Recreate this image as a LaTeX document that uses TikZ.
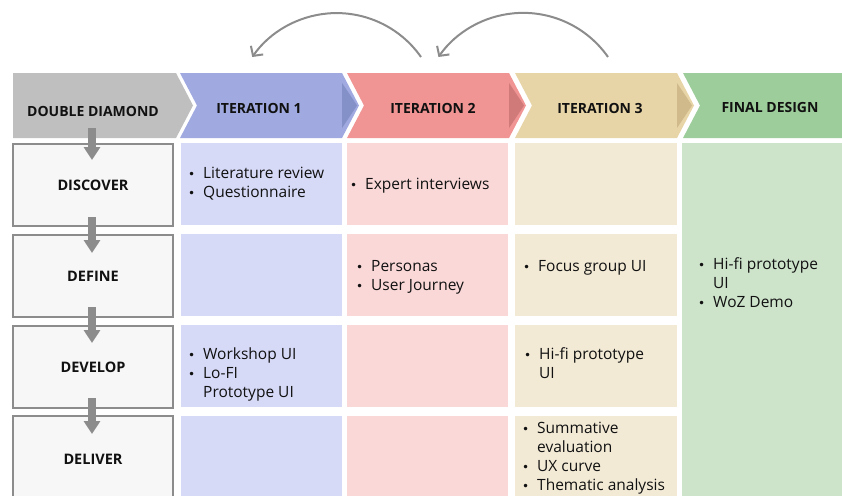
\documentclass[tikz,border=0pt]{standalone}
\usepackage{fontspec}
\setmainfont{Open Sans}
\newfontfamily\bulfont{DejaVu Sans}
\usetikzlibrary{arrows.meta}
\definecolor{ddgray}{HTML}{BFBFBF}
\definecolor{itA}{HTML}{A0AAE0}
\definecolor{itAd}{HTML}{8490C8}
\definecolor{itB}{HTML}{F09494}
\definecolor{itBd}{HTML}{D07A7A}
\definecolor{itC}{HTML}{E8D5A7}
\definecolor{itCd}{HTML}{D0B98A}
\definecolor{fin}{HTML}{9DCD9A}
\definecolor{itAl}{HTML}{D6DAF7}
\definecolor{itBl}{HTML}{FAD8D8}
\definecolor{itCl}{HTML}{F3EAD6}
\definecolor{finl}{HTML}{CDE4CB}
\definecolor{boxfill}{HTML}{F7F7F7}
\definecolor{boxline}{HTML}{8C8C8C}
\definecolor{arrgray}{HTML}{8C8C8C}
\definecolor{txt}{HTML}{111111}
\newcommand{\bul}{\makebox[15pt][l]{{\bulfont\fontsize{12}{12}\selectfont •}}}
\newcommand{\li}[1]{\strut\bul#1}
\newcommand{\lc}[1]{\strut\hspace*{15pt}#1}
\tikzset{
  hdr/.style={font=\bfseries\fontsize{14}{16}\selectfont, text=txt, inner sep=0pt},
  stagebox/.style={draw=boxline, line width=1.5pt, fill=boxfill, minimum width=160pt, minimum height=82pt, inner sep=0pt, font=\bfseries\fontsize{14.5}{16}\selectfont, text=txt},
  items/.style={anchor=west, align=left, inner sep=0pt, font=\fontsize{15.5}{19}\selectfont, text=txt},
  varrow/.style={draw=arrgray, line width=8pt, -{Triangle[width=16pt,length=13pt]}},
  loop/.style={draw=arrgray, line width=2pt, -{Straight Barb[length=7pt,width=15pt]}}
}
\begin{document}
\begin{tikzpicture}[x=1pt,y=-1pt]
\useasboundingbox (0,0) rectangle (842,495);
\clip (0,0) rectangle (842,495);
% header chevrons
\fill[ddgray] (13,73) -- (176,73) -- (193,105.5) -- (176,138) -- (13,138) -- cycle;
\fill[itA] (180,73) -- (342,73) -- (359,105.5) -- (342,138) -- (180,138) -- (197,105.5) -- cycle;
\fill[itAd] (342,83) -- (357,105.5) -- (342,128) -- cycle;
\fill[itB] (347,73) -- (509,73) -- (526,105.5) -- (509,138) -- (347,138) -- (364,105.5) -- cycle;
\fill[itBd] (509,83) -- (524,105.5) -- (509,128) -- cycle;
\fill[itC] (515,73) -- (677,73) -- (694,105.5) -- (677,138) -- (515,138) -- (532,105.5) -- cycle;
\fill[itCd] (677,83) -- (692,105.5) -- (677,128) -- cycle;
\fill[fin] (683,73) -- (842,73) -- (842,138) -- (683,138) -- (700,105.5) -- cycle;
\node[hdr] (hdd) at (93,111) {DOUBLE DIAMOND};
\node[hdr] (hi1) at (259,108) {ITERATION 1};
\node[hdr] (hi2) at (433,108) {ITERATION 2};
\node[hdr] (hi3) at (600,108) {ITERATION 3};
\node[hdr] (hfd) at (770,107) {FINAL DESIGN};
% cells
\fill[itAl] (181,143) rectangle (342,225);
\fill[itAl] (181,234) rectangle (342,316);
\fill[itAl] (181,325) rectangle (342,407);
\fill[itAl] (181,416) rectangle (342,500);
\fill[itBl] (347,143) rectangle (508,225);
\fill[itBl] (347,234) rectangle (508,316);
\fill[itBl] (347,325) rectangle (508,407);
\fill[itBl] (347,416) rectangle (508,500);
\fill[itCl] (515,143) rectangle (677,225);
\fill[itCl] (515,234) rectangle (677,316);
\fill[itCl] (515,325) rectangle (677,407);
\fill[itCl] (515,416) rectangle (677,500);
\fill[finl] (682,143) rectangle (842,500);
% stage boxes
\node[stagebox] (discover) at (93,185) {DISCOVER};
\node[stagebox] (define) at (93,276) {DEFINE};
\node[stagebox] (develop) at (93,367) {DEVELOP};
\node[stagebox, minimum height=86pt] (deliver) at (93,459) {DELIVER};
% vertical arrows
\coordinate (a1s) at (92,128); \coordinate (a1e) at (92,160);
\coordinate (a2s) at (92,217); \coordinate (a2e) at (92,253);
\coordinate (a3s) at (92,307); \coordinate (a3e) at (92,343);
\coordinate (a4s) at (92,398); \coordinate (a4e) at (92,434);
\draw[varrow] (a1s) -- (a1e);
\draw[varrow] (a2s) -- (a2e);
\draw[varrow] (a3s) -- (a3e);
\draw[varrow] (a4s) -- (a4e);
% items
\node[items] (c11) at (188,184) {\li{Literature review}\\\li{Questionnaire}};
\node[items] (c21) at (350,185.5) {\li{Expert interviews}};
\node[items] (c22) at (356,277) {\li{Personas}\\\li{User Journey}};
\node[items] (c32) at (523,267.5) {\li{Focus group UI}};
\node[items] (cf) at (698,285) {\li{Hi-fi prototype}\\\lc{UI}\\\li{WoZ Demo}};
\node[items] (c13) at (188,374.5) {\li{Workshop UI}\\\li{Lo-FI}\\\lc{Prototype UI}};
\node[items] (c33) at (524,365) {\li{Hi-fi prototype}\\\lc{UI}};
\node[items] (c34) at (522,458.5) {\li{Summative}\\\lc{evaluation}\\\li{UX curve}\\\li{Thematic analysis}};
% loop arrows
\coordinate (l1s) at (421,57);
\coordinate (l2s) at (608,57);
\draw[loop] (l1s) arc[start angle=35, end angle=145, radius=103pt];
\draw[loop] (l2s) arc[start angle=35, end angle=145, radius=103.5pt];
\end{tikzpicture}
\end{document}
